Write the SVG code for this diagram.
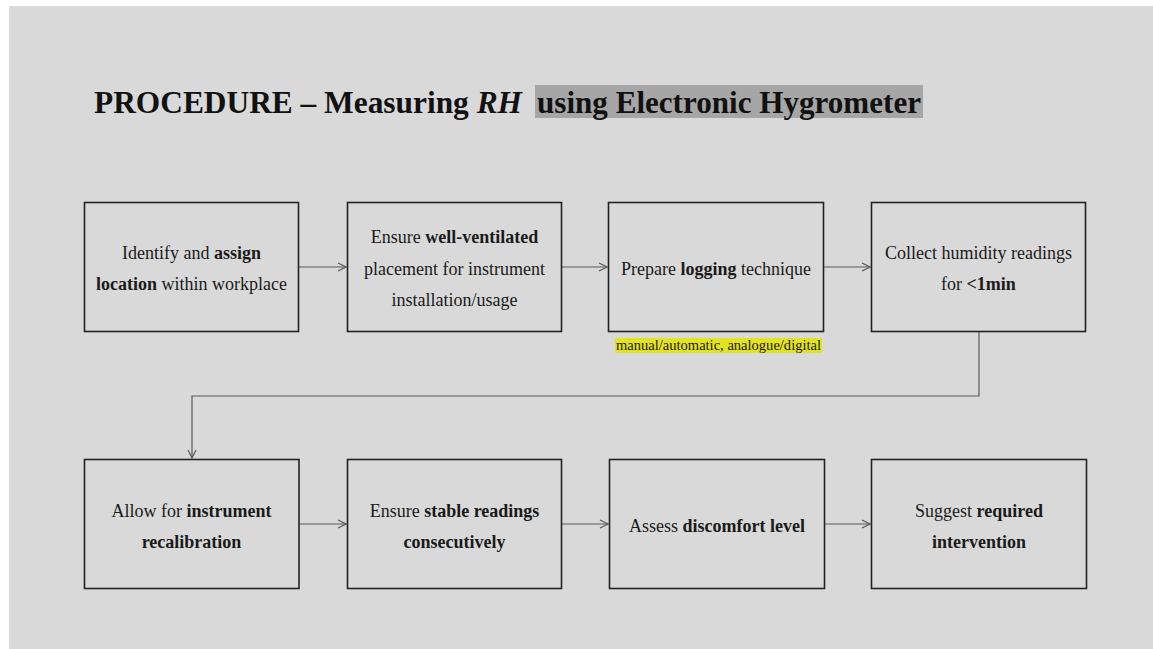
<svg xmlns="http://www.w3.org/2000/svg" width="1153" height="649" viewBox="0 0 1153 649">
  <defs>
    <style>
      .box { fill: none; stroke: #222222; stroke-width: 1.6; }
      .t { font-family: "Liberation Serif", "Times New Roman", serif; font-size: 18px; fill: #1a1a1a; text-anchor: middle; }
      .b { font-weight: bold; }
      .conn { fill: none; stroke: #5a5a5a; stroke-width: 1.2; }
    </style>
    <marker id="arr" viewBox="0 0 10 10" refX="9" refY="5" markerWidth="10" markerHeight="10" markerUnits="userSpaceOnUse" orient="auto">
      <path d="M1,1 L9,5 L1,9" fill="none" stroke="#5a5a5a" stroke-width="1.2"/>
    </marker>
  </defs>

  <rect x="0" y="0" width="1153" height="649" fill="#ffffff"/>
  <rect x="9" y="6" width="1144" height="643" fill="#d9d9d9"/>

  <g id="title">
    <rect x="535" y="85" width="388" height="33" fill="#a6a6a6"/>
    <text x="94" y="113" font-family="Liberation Serif, 'Times New Roman', serif" font-size="31" font-weight="bold" fill="#111" textLength="428" lengthAdjust="spacingAndGlyphs">PROCEDURE – Measuring <tspan font-style="italic">RH</tspan></text>
    <text x="537" y="113" font-family="Liberation Serif, 'Times New Roman', serif" font-size="31" font-weight="bold" fill="#111" textLength="384" lengthAdjust="spacingAndGlyphs">using Electronic Hygrometer</text>
  </g>

  <g id="connectors">
    <path class="conn" d="M298.5 267 H346" marker-end="url(#arr)"/>
    <path class="conn" d="M561.5 267 H607" marker-end="url(#arr)"/>
    <path class="conn" d="M823.5 267 H870" marker-end="url(#arr)"/>
    <path class="conn" d="M979 331 V396 H192 V458" marker-end="url(#arr)"/>
    <path class="conn" d="M299.5 524 H346" marker-end="url(#arr)"/>
    <path class="conn" d="M561.5 524 H608" marker-end="url(#arr)"/>
    <path class="conn" d="M824.5 524 H870" marker-end="url(#arr)"/>
  </g>

  <g id="node1">
    <rect class="box" x="84.5" y="202.5" width="214" height="129"/>
    <text class="t" x="191.5" y="259">Identify and <tspan class="b">assign</tspan></text>
    <text class="t" x="191.5" y="290"><tspan class="b">location</tspan> within workplace</text>
  </g>
  <g id="node2">
    <rect class="box" x="347.5" y="202.5" width="214" height="129"/>
    <text class="t" x="454.5" y="243">Ensure <tspan class="b">well-ventilated</tspan></text>
    <text class="t" x="454.5" y="275">placement for instrument</text>
    <text class="t" x="454.5" y="306">installation/usage</text>
  </g>
  <g id="node3">
    <rect class="box" x="608.5" y="202.5" width="215" height="129"/>
    <text class="t" x="716" y="275">Prepare <tspan class="b">logging</tspan> technique</text>
  </g>
  <g id="note3">
    <rect x="615" y="338" width="207" height="15" fill="#e3e320"/>
    <text x="718.5" y="350" font-family="Liberation Serif, 'Times New Roman', serif" font-size="14.5" fill="#1a1a1a" text-anchor="middle" textLength="205" lengthAdjust="spacingAndGlyphs">manual/automatic, analogue/digital</text>
  </g>
  <g id="node4">
    <rect class="box" x="871.5" y="202.5" width="214" height="129"/>
    <text class="t" x="978.5" y="259">Collect humidity readings</text>
    <text class="t" x="978.5" y="290">for <tspan class="b">&lt;1min</tspan></text>
  </g>

  <g id="node5">
    <rect class="box" x="84.5" y="459.5" width="214.5" height="129"/>
    <text class="t" x="191.5" y="517">Allow for <tspan class="b">instrument</tspan></text>
    <text class="t b" x="191.5" y="548">recalibration</text>
  </g>
  <g id="node6">
    <rect class="box" x="347.5" y="459.5" width="214" height="129"/>
    <text class="t" x="454.5" y="517">Ensure <tspan class="b">stable readings</tspan></text>
    <text class="t b" x="454.5" y="548">consecutively</text>
  </g>
  <g id="node7">
    <rect class="box" x="609.5" y="459.5" width="215" height="129"/>
    <text class="t" x="717" y="532">Assess <tspan class="b">discomfort level</tspan></text>
  </g>
  <g id="node8">
    <rect class="box" x="871.5" y="459.5" width="215" height="129"/>
    <text class="t" x="979" y="517">Suggest <tspan class="b">required</tspan></text>
    <text class="t b" x="979" y="548">intervention</text>
  </g>
</svg>
